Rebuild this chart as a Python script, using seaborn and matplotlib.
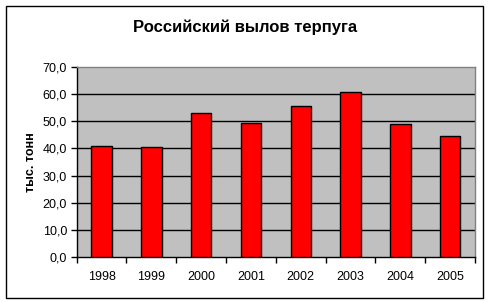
import matplotlib
matplotlib.use("Agg")
import matplotlib.pyplot as plt
import seaborn as sns
import pandas as pd
from matplotlib.patches import Rectangle

years = ["1998", "1999", "2000", "2001", "2002", "2003", "2004", "2005"]
catch = [40.8, 40.4, 53.0, 49.3, 55.6, 60.8, 48.9, 44.5]
ytick_values = [0, 10, 20, 30, 40, 50, 60, 70]
ytick_labels = ["0,0", "10,0", "20,0", "30,0", "40,0", "50,0", "60,0", "70,0"]
title = "Российский вылов терпуга"
ylabel = "тыс. тонн"

sns.set_style("white")
plt.rcParams["font.family"] = ["Liberation Sans", "DejaVu Sans"]
plt.rcParams["text.color"] = "black"
plt.rcParams["axes.labelcolor"] = "black"
plt.rcParams["xtick.color"] = "black"
plt.rcParams["ytick.color"] = "black"

df = pd.DataFrame({"year": years, "catch": catch})

fig = plt.figure(figsize=(4.9, 3.02), dpi=100)
fig.patch.set_facecolor("white")
ax = fig.add_axes([76.7 / 490, 1 - 256.7 / 302, (475 - 76.7) / 490, (256.7 - 67.3) / 302])
ax.set_facecolor("#c0c0c0")

sns.barplot(data=df, x="year", y="catch", color="#ff0000", edgecolor="black",
            linewidth=1.0, width=0.41, saturation=1, ax=ax, zorder=3)

ax.set_ylim(0, 70)
ax.set_xlim(-0.5, len(years) - 0.5)
ax.set_yticks(ytick_values)
ax.set_yticklabels(ytick_labels, fontsize=9)
for v in ytick_values[1:-1]:
    ax.axhline(v, color="black", linewidth=1.0, zorder=1)

ax.set_xticks(range(len(years)))
ax.set_xticklabels(years, fontsize=9)
ax.tick_params(axis="x", which="major", length=0, pad=10)
ax.set_xticks([i - 0.5 for i in range(len(years) + 1)], minor=True)
ax.tick_params(axis="x", which="minor", length=4, width=1, color="black", direction="out")
ax.tick_params(axis="y", length=4, width=1, color="black", direction="out", pad=3)
ax.tick_params(axis="both", bottom=True, left=True)
ax.tick_params(axis="x", which="minor", bottom=True)

ax.set_xlabel("")
ax.set_ylabel(ylabel, fontsize=9, fontweight="bold", labelpad=4, color="black")

for s in ["top", "right"]:
    ax.spines[s].set_color("#808080")
    ax.spines[s].set_linewidth(1.0)
for s in ["left", "bottom"]:
    ax.spines[s].set_color("black")
    ax.spines[s].set_linewidth(1.0)

fig.text(0.5, 1 - 27 / 302, title, ha="center", va="center", fontsize=12,
         fontweight="bold", color="black")

fig.patches.append(Rectangle((5.5 / 490, 1 - 297.5 / 302), 477 / 490, 292 / 302,
                             transform=fig.transFigure, fill=False, edgecolor="black",
                             linewidth=1.0))

fig.savefig("out.png", dpi=100)
